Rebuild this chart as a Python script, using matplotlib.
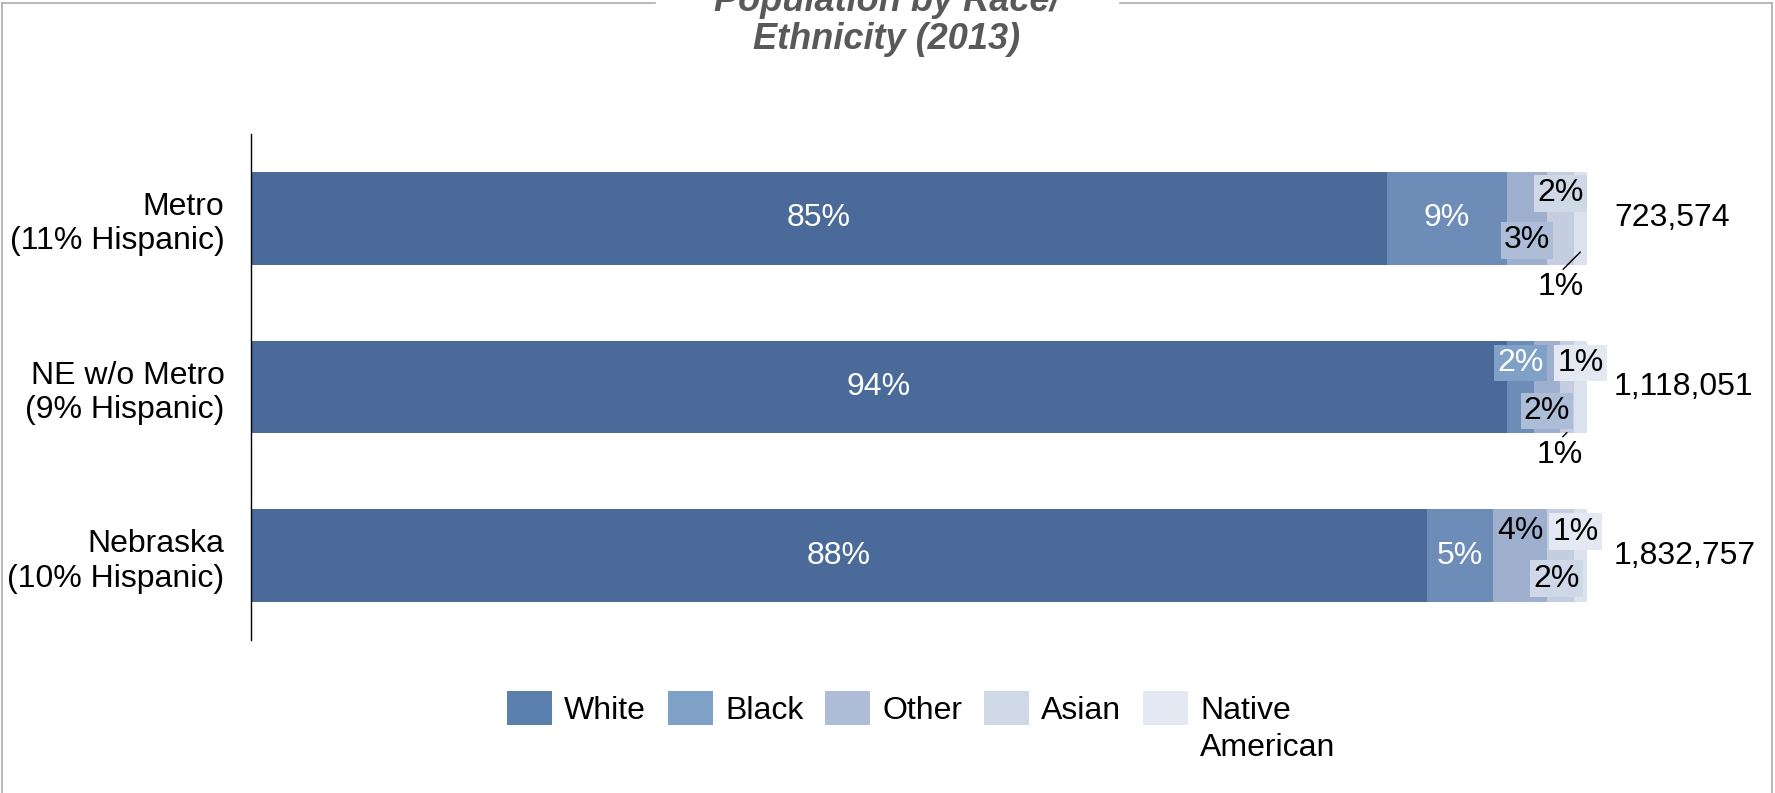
import matplotlib
matplotlib.use("Agg")
import matplotlib.pyplot as plt
from matplotlib.lines import Line2D

# population share by race, 2013
regions = ["Metro\n(11% Hispanic)", "NE w/o Metro\n(9% Hispanic)", "Nebraska\n(10% Hispanic)"]
groups = ["White", "Black", "Other", "Asian", "Native\nAmerican"]
white = [85, 94, 88]
black = [9, 2, 5]
other = [3, 2, 4]
asian = [2, 1, 2]
native = [1, 1, 1]
totals = [723574, 1118051, 1832757]

bar_colors = ["#4a6b99", "#6d8db8", "#9eb0ce", "#c4cee0", "#dbe2ee"]
soft_colors = ["#5b80ad", "#7fa0c7", "#adbdd8", "#cfd8e7", "#e3e8f2"]
text_colors = ["white", "white", "black", "black", "black"]

# label placement per row/series: (dx, dy) in pixels, boxed, leader line
placement = [
    [(0, 0, False, False), (0, 0, False, False), (0, -22, True, False), (0, 25, True, False), (-20, -35, False, True)],
    [(0, 0, False, False), (0, 24, True, False), (0, -24, True, False), (-7, -22, False, True), (0, 24, True, False)],
    [(0, 0, False, False), (0, 0, False, False), (0, 25, False, False), (-4, -23, True, False), (-5, 24, True, False)],
]

plt.rcParams["font.family"] = ["Liberation Sans", "DejaVu Sans"]

W, H = 1775, 793
fig = plt.figure(figsize=(W / 100, H / 100), dpi=100)
ax = fig.add_axes([251 / W, 1 - 640 / H, (1587 - 251) / W, (640 - 134) / H])

series = [white, black, other, asian, native]
ypos = list(range(len(regions)))
left = [0] * len(regions)
containers = []
for k, vals in enumerate(series):
    bc = ax.barh(ypos, vals, left=left, height=0.55, color=bar_colors[k], edgecolor="none")
    containers.append(bc)
    for i, v in enumerate(vals):
        cx = left[i] + v / 2
        dx, dy, boxed, leader = placement[i][k]
        kw = dict(ha="center", va="center", fontsize=23, color=text_colors[k],
                  textcoords="offset pixels")
        if boxed:
            kw["bbox"] = dict(boxstyle="square,pad=0.1", fc=soft_colors[k], ec="none")
        if leader:
            ax.annotate(f"{v}%", xy=(cx, i + 0.2 if i == 0 else i + 0.27), xytext=(dx, dy),
                        arrowprops=dict(arrowstyle="-", color="black", lw=1, relpos=(0.5, 1),
                                        shrinkA=0, shrinkB=0), **kw)
        else:
            ax.annotate(f"{v}%", xy=(cx, i), xytext=(dx, dy), **kw)
    left = [l + v for l, v in zip(left, vals)]

for i, t in enumerate(totals):
    ax.annotate(f"{t:,}", xy=(left[i], i), xytext=(27, 0), textcoords="offset pixels",
                ha="left", va="center", fontsize=23, color="black")

ax.set_xlim(0, 100)
ax.set_ylim(2.5, -0.5)
ax.set_yticks(ypos, regions)
ax.set_xticks([])
ax.tick_params(axis="y", length=0, pad=19, labelsize=23)
for s in ["top", "right", "bottom"]:
    ax.spines[s].set_visible(False)
ax.spines["left"].set_linewidth(1.0)
ax.spines["left"].set_color("black")

# legend (second line of the last label is added below the first)
first_lines = [g.split("\n")[0] for g in groups]
fs = 23
fpx = fs * 100 / 72
leg = ax.legend(containers, first_lines, ncol=5, frameon=False,
                loc="upper left", bbox_to_anchor=(507 / W, 1 - 691 / H),
                bbox_transform=fig.transFigure, borderpad=0, borderaxespad=0,
                handlelength=45 / fpx, handleheight=1.26,
                handletextpad=12 / fpx, columnspacing=22 / fpx,
                prop={"size": fs})
for p, c in zip(leg.get_patches(), soft_colors):
    p.set_facecolor(c)

fig.canvas.draw()
bb = leg.get_texts()[-1].get_window_extent()
x0, y0 = fig.transFigure.inverted().transform((bb.x0, bb.y0 - 7))
fig.text(x0, y0, groups[-1].split("\n")[1], ha="left", va="top",
         fontsize=fs, color="black")

# title, mostly above the top edge
fig.text(887 / W, 1 - 57 / H, "Population by Race/\nEthnicity (2013)", ha="center",
         va="bottom", fontsize=26, fontweight="bold", fontstyle="italic", color="#595959",
         linespacing=1.1)

# outer frame, broken by the title
frame = dict(color="#ababab", lw=1.2, transform=fig.transFigure)
fig.add_artist(Line2D([1.5 / W, 1.5 / W], [0, 1 - 3 / H], **frame))
fig.add_artist(Line2D([1772 / W, 1772 / W], [0, 1 - 3 / H], **frame))
fig.add_artist(Line2D([1.5 / W, 655 / W], [1 - 3 / H, 1 - 3 / H], **frame))
fig.add_artist(Line2D([1120 / W, 1772 / W], [1 - 3 / H, 1 - 3 / H], **frame))

fig.savefig("out.png", dpi=100)
